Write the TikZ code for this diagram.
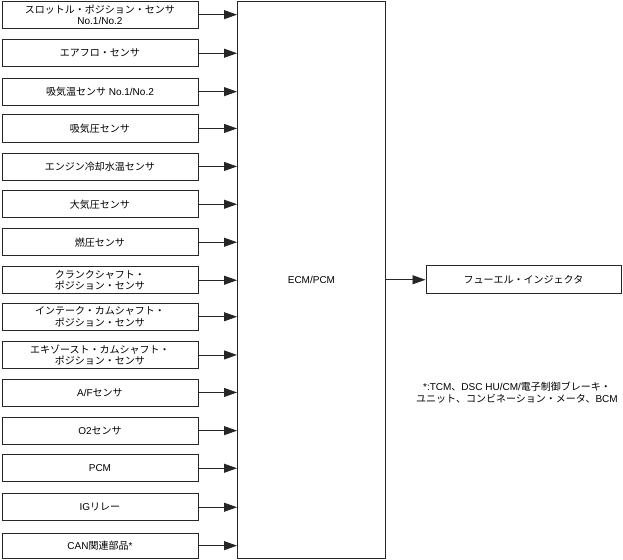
\documentclass[tikz,border=0pt]{standalone}
\usepackage{fontspec}
\setmainfont{Liberation Sans}
\newfontfamily\jpfont{Noto Sans CJK JP}
\newcommand{\J}[1]{{\jpfont #1}}
\usetikzlibrary{arrows.meta}
\begin{document}
\begin{tikzpicture}[x=1pt,y=-1pt,
  every node/.style={font=\fontsize{10}{11.5}\selectfont},
  inbox/.style={draw=black!85, line width=0.9pt, rectangle, anchor=north west, inner sep=0pt,
    minimum width=196pt, minimum height=27pt, align=center},
  ecmbox/.style={draw=black!85, line width=0.9pt, rectangle, anchor=north west, inner sep=0pt,
    minimum width=148pt, minimum height=557pt},
  outbox/.style={draw=black!85, line width=0.9pt, rectangle, anchor=north west, inner sep=0pt,
    minimum width=195pt, minimum height=28pt},
  arr/.style={draw=black!85, line width=0.9pt, -{Triangle[length=13pt,width=9pt]}}]
\useasboundingbox (0,0) rectangle (623,559);

\node[ecmbox] (ecm) at (237,0.7) {ECM/PCM};

\node[inbox] (b1) at (1.5,0.7) {\J{スロットル・ポジション・センサ}\\No.1/No.2};
\node[inbox] (b2) at (1.5,39.3) {\J{エアフロ・センサ}};
\node[inbox] (b3) at (1.5,77.7) {\J{吸気温センサ} No.1/No.2};
\node[inbox] (b4) at (1.5,114.5) {\J{吸気圧センサ}};
\node[inbox] (b5) at (1.5,152.5) {\J{エンジン冷却水温センサ}};
\node[inbox] (b6) at (1.5,190.3) {\J{大気圧センサ}};
\node[inbox] (b7) at (1.5,228.3) {\J{燃圧センサ}};
\node[inbox] (b8) at (1.5,266.3) {\J{クランクシャフト・}\\\J{ポジション・センサ}};
\node[inbox] (b9) at (1.5,302.8) {\J{インテーク・カムシャフト・}\\\J{ポジション・センサ}};
\node[inbox] (b10) at (1.5,341) {\J{エキゾースト・カムシャフト・}\\\J{ポジション・センサ}};
\node[inbox] (b11) at (1.5,378.5) {A/F\J{センサ}};
\node[inbox] (b12) at (1.5,416.7) {O2\J{センサ}};
\node[inbox] (b13) at (1.5,454.3) {PCM};
\node[inbox] (b14) at (1.5,493.3) {IG\J{リレー}};
\node[inbox, minimum height=25pt] (b15) at (1.5,532.7) {CAN\J{関連部品}*};

\foreach \b in {b1,b2,b3,b4,b5,b6,b7,b8,b9,b10,b11,b12,b13,b14,b15}
  \draw[arr] (\b.east) -- (\b.east -| ecm.west);

\node[outbox] (fi) at (425.5,265.3) {\J{フューエル・インジェクタ}};
\draw[arr] (fi.west -| ecm.east) -- (fi.west);

\node[align=center] (note) at (517,392.5) {*:TCM\J{、}DSC HU/CM/\J{電子制御ブレーキ・}\\\J{ユニット、コンビネーション・メータ、}BCM};
\end{tikzpicture}
\end{document}
